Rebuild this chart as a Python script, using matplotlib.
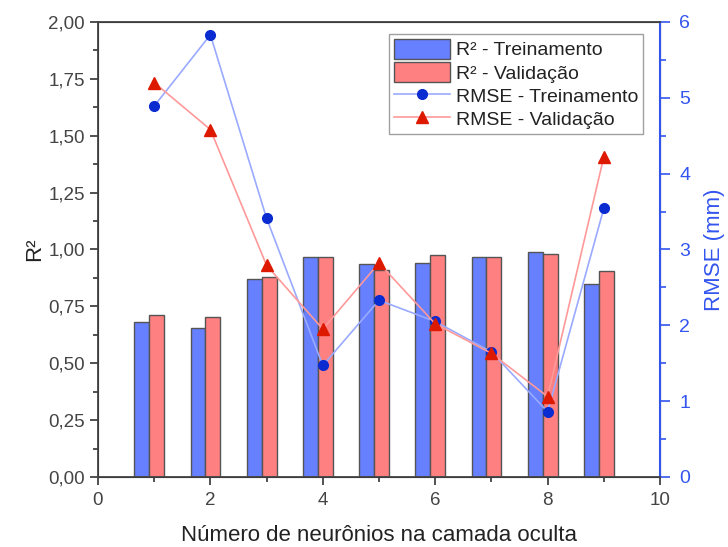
import matplotlib
matplotlib.use("Agg")
import matplotlib.pyplot as plt
from matplotlib.ticker import FuncFormatter, MultipleLocator

# Número de neurônios na camada oculta
neuronios = [1, 2, 3, 4, 5, 6, 7, 8, 9]

# R² por configuração
r2_treino = [0.683, 0.653, 0.872, 0.968, 0.935, 0.939, 0.966, 0.988, 0.847]
r2_valid = [0.711, 0.705, 0.880, 0.968, 0.910, 0.976, 0.968, 0.980, 0.905]

# RMSE (mm)
rmse_treino = [4.89, 5.83, 3.41, 1.47, 2.33, 2.05, 1.65, 0.86, 3.54]
rmse_valid = [5.20, 4.58, 2.79, 1.95, 2.82, 2.02, 1.63, 1.06, 4.22]

BLUE_BAR = "#6680FF"
RED_BAR = "#FF8080"
BLUE_AX = "#3355EE"

plt.rcParams["font.family"] = ["Liberation Sans", "DejaVu Sans"]

fig = plt.figure(figsize=(7.28, 5.47), dpi=100)
ax = fig.add_axes([0.1346, 0.128, 0.772, 0.832])
ax2 = ax.twinx()

w = 0.265
xb = [x - 0.22 for x in neuronios]
xr = [x + 0.045 for x in neuronios]
b1 = ax.bar(xb, r2_treino, width=w, color=BLUE_BAR, edgecolor="#555555",
            linewidth=1.0, label="R² - Treinamento")
b2 = ax.bar(xr, r2_valid, width=w, color=RED_BAR, edgecolor="#555555",
            linewidth=1.0, label="R² - Validação")

l1, = ax2.plot(neuronios, rmse_treino, color="#99AAFF", lw=1.2,
               marker="o", ms=7, mfc="#0A2BD0", mec="#0A2BD0",
               label="RMSE - Treinamento")
l2, = ax2.plot(neuronios, rmse_valid, color="#FF9999", lw=1.2,
               marker="^", ms=8, mfc="#DD1A00", mec="#DD1A00",
               label="RMSE - Validação")

ax.set_xlim(0, 10)
ax.set_ylim(0, 2.0)
ax2.set_ylim(0, 6)

ax.xaxis.set_major_locator(MultipleLocator(2))
ax.xaxis.set_minor_locator(MultipleLocator(1))
ax.yaxis.set_major_locator(MultipleLocator(0.25))
ax.yaxis.set_minor_locator(MultipleLocator(0.125))
ax.yaxis.set_major_formatter(FuncFormatter(lambda v, p: f"{v:.2f}".replace(".", ",")))
ax2.yaxis.set_major_locator(MultipleLocator(1))
ax2.yaxis.set_minor_locator(MultipleLocator(0.5))

ax.tick_params(axis="both", which="major", direction="out", length=6,
               width=1.2, labelsize=13.5, colors="#333333", labelcolor="#444444")
ax.tick_params(axis="both", which="minor", direction="out", length=3.5,
               width=1.2, colors="#333333")
ax.tick_params(axis="x", pad=5)

ax2.tick_params(axis="y", which="major", direction="out", length=7, width=1.2,
                labelsize=14, colors=BLUE_AX, labelcolor=BLUE_AX, pad=7)
ax2.tick_params(axis="y", which="minor", direction="out", length=4,
                width=1.2, colors=BLUE_AX)

for s in ["left", "bottom", "top"]:
    ax2.spines[s].set_color("#444444")
    ax2.spines[s].set_linewidth(1.3)
ax2.spines["right"].set_color(BLUE_AX)
ax2.spines["right"].set_linewidth(1.5)

ax.set_xlabel("Número de neurônios na camada oculta", fontsize=16,
              color="#222222", labelpad=11)
ax.set_ylabel("R²", fontsize=16, color="#222222", labelpad=2)
ax2.set_ylabel("RMSE (mm)", fontsize=16, color=BLUE_AX, labelpad=10)

leg = ax2.legend(handles=[b1, b2, l1, l2], loc="upper right",
                 bbox_to_anchor=(0.97, 0.974), fontsize=14, frameon=True,
                 fancybox=False, edgecolor="#888888", handlelength=2.9,
                 handleheight=1.2, borderpad=0.25, labelspacing=0.15,
                 handletextpad=0.3, borderaxespad=0.0)
leg.get_frame().set_linewidth(1.0)
for t in leg.get_texts():
    t.set_color("#222222")

fig.savefig("out.png", dpi=100)
